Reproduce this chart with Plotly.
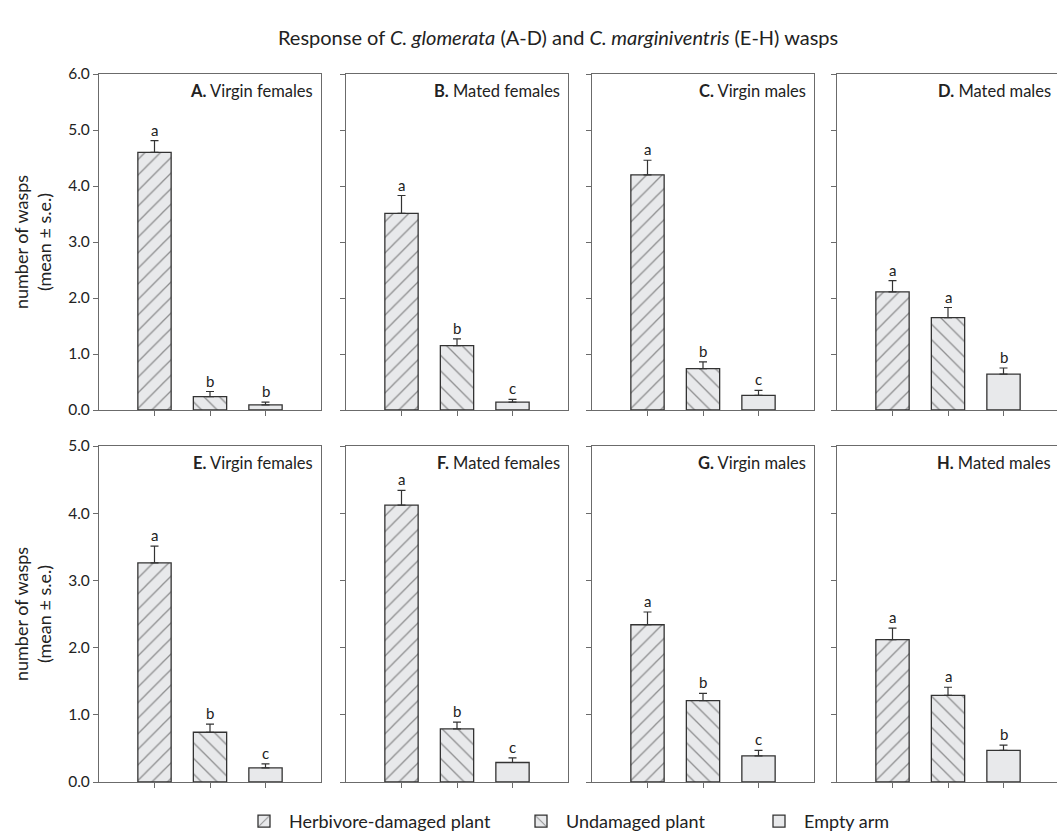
import plotly.graph_objects as go

# ---------------- data ----------------
categories = ["Herbivore-damaged plant", "Undamaged plant", "Empty arm"]
panel_ids = ["A.", "B.", "C.", "D.", "E.", "F.", "G.", "H."]
panel_names = ["Virgin females", "Mated females", "Virgin males", "Mated males",
               "Virgin females", "Mated females", "Virgin males", "Mated males"]

means_A = [4.60, 0.24, 0.09]; se_A = [0.21, 0.09, 0.05]; letters_A = ["a", "b", "b"]
means_B = [3.51, 1.15, 0.14]; se_B = [0.32, 0.12, 0.05]; letters_B = ["a", "b", "c"]
means_C = [4.20, 0.74, 0.26]; se_C = [0.26, 0.12, 0.09]; letters_C = ["a", "b", "c"]
means_D = [2.11, 1.65, 0.64]; se_D = [0.20, 0.18, 0.11]; letters_D = ["a", "a", "b"]
means_E = [3.26, 0.74, 0.21]; se_E = [0.25, 0.12, 0.06]; letters_E = ["a", "b", "c"]
means_F = [4.12, 0.79, 0.29]; se_F = [0.22, 0.10, 0.07]; letters_F = ["a", "b", "c"]
means_G = [2.34, 1.21, 0.39]; se_G = [0.19, 0.11, 0.08]; letters_G = ["a", "b", "c"]
means_H = [2.12, 1.29, 0.47]; se_H = [0.17, 0.12, 0.08]; letters_H = ["a", "a", "b"]

all_means = [means_A, means_B, means_C, means_D, means_E, means_F, means_G, means_H]
all_se = [se_A, se_B, se_C, se_D, se_E, se_F, se_G, se_H]
all_letters = [letters_A, letters_B, letters_C, letters_D, letters_E, letters_F, letters_G, letters_H]

y_max_top = 6
y_max_bottom = 5
ytick_top = [0, 1, 2, 3, 4, 5, 6]
ytick_bottom = [0, 1, 2, 3, 4, 5]

# ---------------- styling ----------------
W, H = 1057, 840
FONT = "Lato"
fill = "#e8e9eb"
edge = "#333333"
axis_col = "#6b6b6b"
text_col = "#222222"
patterns = ["/", "\\", ""]
legend_ids = ["legend", "legend2", "legend3"]
legend_x_px = [239, 516, 754]

# panel pixel geometry
x_left = [99, 346, 592, 837]
panel_w = 222
row_top = [74, 446]
panel_h = 336

fig = go.Figure()
layout_axes = {}
annotations = []

for p in range(8):
    row, col = divmod(p, 4)
    idx = p + 1
    xa = "x" if idx == 1 else f"x{idx}"
    ya = "y" if idx == 1 else f"y{idx}"
    xname = "xaxis" if idx == 1 else f"xaxis{idx}"
    yname = "yaxis" if idx == 1 else f"yaxis{idx}"

    x0 = x_left[col]
    x1 = min(x0 + panel_w, W)
    xrange_end = 4 * (x1 - x0) / panel_w
    y_top = row_top[row]
    y_bot = y_top + panel_h
    ymax = y_max_top if row == 0 else y_max_bottom

    for k in range(3):
        fig.add_trace(go.Bar(
            x=[k + 1], y=[all_means[p][k]],
            width=0.6,
            name=categories[k],
            legendgroup=categories[k],
            legend=legend_ids[k],
            showlegend=(p == 0),
            marker=dict(
                color=fill,
                line=dict(color=edge, width=1.3),
                pattern=dict(shape=patterns[k], fillmode="overlay",
                             bgcolor=fill, fgcolor=edge, size=11, solidity=0.12),
            ),
            error_y=dict(type="data", symmetric=False,
                         array=[all_se[p][k]], arrayminus=[0],
                         color=edge, thickness=1.2, width=4),
            xaxis=xa, yaxis=ya,
            hoverinfo="skip",
        ))
        annotations.append(dict(
            x=k + 1, y=all_means[p][k] + all_se[p][k],
            xref=xa, yref=ya, text=all_letters[p][k], showarrow=False,
            yanchor="bottom", yshift=0,
            font=dict(family=FONT, size=15, color=text_col),
        ))

    annotations.append(dict(
        x=(panel_w - 6) / (x1 - x0), y=0.985,
        xref=f"{xa} domain", yref=f"{ya} domain",
        text=f"<b>{panel_ids[p]}</b> {panel_names[p]}",
        showarrow=False, xanchor="right", yanchor="top",
        font=dict(family=FONT, size=16.5, color=text_col),
    ))

    layout_axes[xname] = dict(
        domain=[x0 / W, x1 / W], range=[0, xrange_end], anchor=ya,
        tickvals=[1, 2, 3], ticktext=["", "", ""], ticks="outside", ticklen=5,
        tickcolor=axis_col, showline=True, linecolor=axis_col, linewidth=1.2,
        mirror=True, showgrid=False, zeroline=False, fixedrange=True,
        automargin=False,
    )
    layout_axes[yname] = dict(
        domain=[(H - y_bot) / H, (H - y_top) / H], range=[0, ymax], anchor=xa,
        tickvals=ytick_top if row == 0 else ytick_bottom,
        tickformat=".1f", showticklabels=(col == 0),
        ticks="outside", ticklen=5, tickcolor=axis_col,
        showline=True, linecolor=axis_col, linewidth=1.2,
        mirror=(col != 3), showgrid=False, zeroline=False,
        tickfont=dict(family=FONT, size=15.5, color=text_col),
        fixedrange=True, automargin=False,
    )
    if col == 0:
        layout_axes[yname]["title"] = dict(
            text="number of wasps<br>(mean ± s.e.)",
            font=dict(family=FONT, size=18, color=text_col), standoff=11)

legend_common = dict(orientation="h", xanchor="left", y=0.0, yanchor="bottom",
                     font=dict(family=FONT, size=18, color=text_col),
                     itemwidth=40, bgcolor="rgba(0,0,0,0)")
legends = {lid: dict(legend_common, x=legend_x_px[i] / W) for i, lid in enumerate(legend_ids)}

fig.update_layout(
    width=W, height=H,
    margin=dict(l=0, r=0, t=0, b=0, autoexpand=False),
    paper_bgcolor="white", plot_bgcolor="white",
    barmode="overlay",
    title=dict(
        text="Response of <i>C. glomerata</i> (A-D) and <i>C. marginiventris</i> (E-H) wasps",
        x=0.528, xanchor="center", y=1 - 38 / H, yanchor="middle",
        font=dict(family=FONT, size=20, color=text_col), automargin=False,
    ),
    annotations=annotations,
    **legends,
    **layout_axes,
)

fig.write_html("out.html", config={"displayModeBar": False},
               post_script="document.body.style.margin='0';")
